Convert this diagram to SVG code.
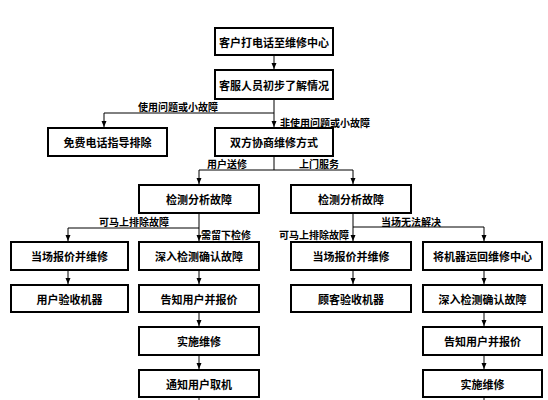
<svg xmlns="http://www.w3.org/2000/svg" width="548" height="400" viewBox="0 0 548 400">
<defs>
<marker id="arr" markerUnits="userSpaceOnUse" markerWidth="6" markerHeight="6" viewBox="0 0 6 6" refX="6" refY="3" orient="auto">
<path d="M0,0.5 L6,3 L0,5.5 Z" fill="#000"/>
</marker>
</defs>
<style>
.box{fill:#fff;stroke:#000;stroke-width:2}
.t{font-family:"Noto Sans CJK SC","Noto Sans",sans-serif;font-weight:bold;font-size:11px;text-anchor:middle;dominant-baseline:central;fill:#000}
.l{font-family:"Noto Sans CJK SC","Noto Sans",sans-serif;font-weight:bold;font-size:10px;dominant-baseline:central;fill:#000}
.c{fill:none;stroke:#000;stroke-width:1}
.a{marker-end:url(#arr)}
</style>
<rect width="548" height="400" fill="#fff"/>
<g id="connectors">
<path class="c a" d="M274,55 V69"/>
<path class="c" d="M274,99 V113 H104"/>
<path class="c a" d="M104,113 V127"/>
<path class="c a" d="M274,113 V127"/>
<path class="c" d="M274,156 V170"/>
<path class="c" d="M199,170 H353"/>
<path class="c a" d="M199,170 V184"/>
<path class="c a" d="M353,170 V184"/>
<path class="c" d="M199,213 V228 H68"/>
<path class="c a" d="M68,228 V241"/>
<path class="c a" d="M199,228 V241"/>
<path class="c a" d="M68,270 V284"/>
<path class="c a" d="M199,270 V284"/>
<path class="c a" d="M199,312 V326"/>
<path class="c a" d="M199,355 V369"/>
<path class="c" d="M199,397 V400"/>
<path class="c" d="M353,213 V227 H484"/>
<path class="c a" d="M484,227 V241"/>
<path class="c a" d="M353,227 V241"/>
<path class="c a" d="M353,270 V284"/>
<path class="c a" d="M484,270 V284"/>
<path class="c a" d="M484,312 V326"/>
<path class="c a" d="M484,355 V369"/>
<path class="c" d="M484,397 V400"/>
<text class="l" x="138" y="106.5">使用问题或小故障</text>
<text class="l" x="280" y="122">非使用问题或小故障</text>
<text class="l" x="207" y="163">用户送修</text>
<text class="l" x="299" y="163">上门服务</text>
<text class="l" x="99" y="221.5">可马上排除故障</text>
<text class="l" x="201" y="234">需留下检修</text>
<text class="l" x="381" y="221.5">当场无法解决</text>
<text class="l" x="279" y="234">可马上排除故障</text>
</g>
<g id="n1"><rect class="box" x="215" y="28" width="118" height="27"/><text class="t" x="274" y="41.5">客户打电话至维修中心</text></g>
<g id="n2"><rect class="box" x="215" y="70" width="118" height="29"/><text class="t" x="274" y="84.5">客服人员初步了解情况</text></g>
<g id="n3"><rect class="box" x="48" y="128" width="119" height="28"/><text class="t" x="107.5" y="142">免费电话指导排除</text></g>
<g id="n4"><rect class="box" x="215" y="128" width="118" height="28"/><text class="t" x="274" y="142">双方协商维修方式</text></g>
<g id="n5"><rect class="box" x="139" y="185" width="120" height="28"/><text class="t" x="199" y="199">检测分析故障</text></g>
<g id="n6"><rect class="box" x="291" y="185" width="120" height="28"/><text class="t" x="351" y="199">检测分析故障</text></g>
<g id="n7"><rect class="box" x="11" y="242" width="117" height="28"/><text class="t" x="69.5" y="256">当场报价并维修</text></g>
<g id="n8"><rect class="box" x="139" y="242" width="120" height="28"/><text class="t" x="199" y="256">深入检测确认故障</text></g>
<g id="n9"><rect class="box" x="291" y="242" width="120" height="28"/><text class="t" x="351" y="256">当场报价并维修</text></g>
<g id="n10"><rect class="box" x="423" y="242" width="119" height="28"/><text class="t" x="482.5" y="256">将机器运回维修中心</text></g>
<g id="n11"><rect class="box" x="11" y="285" width="117" height="27"/><text class="t" x="69.5" y="298.5">用户验收机器</text></g>
<g id="n12"><rect class="box" x="139" y="285" width="120" height="27"/><text class="t" x="199" y="298.5">告知用户并报价</text></g>
<g id="n13"><rect class="box" x="291" y="285" width="120" height="27"/><text class="t" x="351" y="298.5">顾客验收机器</text></g>
<g id="n14"><rect class="box" x="423" y="285" width="119" height="27"/><text class="t" x="482.5" y="298.5">深入检测确认故障</text></g>
<g id="n15"><rect class="box" x="139" y="327" width="120" height="28"/><text class="t" x="199" y="341">实施维修</text></g>
<g id="n16"><rect class="box" x="423" y="327" width="119" height="28"/><text class="t" x="482.5" y="341">告知用户并报价</text></g>
<g id="n17"><rect class="box" x="139" y="370" width="120" height="27"/><text class="t" x="199" y="383.5">通知用户取机</text></g>
<g id="n18"><rect class="box" x="423" y="370" width="119" height="27"/><text class="t" x="482.5" y="383.5">实施维修</text></g>
</svg>
